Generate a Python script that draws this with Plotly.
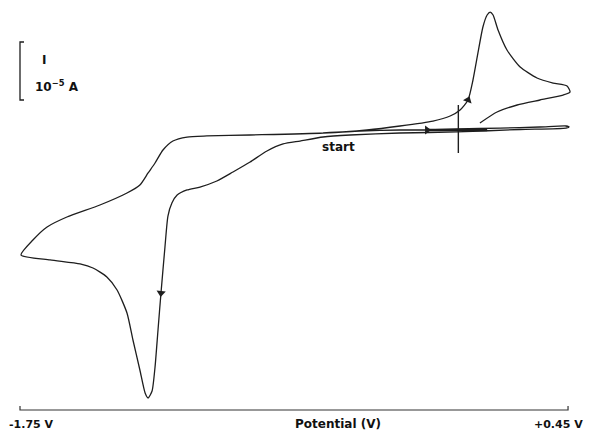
import plotly.graph_objects as go

# Cyclic voltammogram trace (potential in V, current in microamps)
V_SCAN = [-0.537, -0.388, -0.227, -0.118, 0.007, 0.176, 0.337, 0.442, 0.454, 0.442,
          0.257, 0.003, -0.227, -0.428, -0.537, -0.630, -0.698, -0.763, -0.831, -0.900,
          -0.965, -1.033, -1.085, -1.125, -1.146, -1.162, -1.174, -1.190, -1.202, -1.214,
          -1.226, -1.242, -1.254, -1.275, -1.303, -1.327, -1.367, -1.408, -1.464, -1.516,
          -1.637, -1.754, -1.706, -1.649, -1.569, -1.436, -1.327, -1.275, -1.242, -1.214,
          -1.182, -1.142, -1.085, -1.005, -0.831, -0.537, -0.360, -0.227, -0.094, -0.025,
          0.015, 0.047, 0.067, 0.087, 0.107, 0.124, 0.136, 0.148, 0.168, 0.204,
          0.257, 0.325, 0.390, 0.446, 0.458, 0.430, 0.337, 0.245, 0.164, 0.095]
I_SCAN = [-0.52, -0.17, 0.0, 0.0, 0.17, 0.34, 0.52, 0.69, 0.52, 0.34,
          0.09, -0.34, -0.52, -0.86, -1.21, -1.90, -2.41, -3.62, -5.52, -7.24,
          -8.79, -9.83, -10.34, -11.21, -12.59, -14.83, -20.17, -28.10, -34.48, -40.86,
          -45.0, -46.21, -45.34, -41.38, -36.21, -31.55, -27.59, -25.34, -23.79, -23.10,
          -22.41, -21.55, -18.97, -16.72, -15.0, -12.93, -10.86, -9.48, -7.41, -5.69,
          -3.45, -1.90, -1.21, -1.03, -0.86, -0.52, 0.0, 0.69, 1.55, 2.41,
          3.45, 5.17, 8.62, 13.28, 17.76, 19.83, 20.34, 19.83, 17.24, 13.79,
          10.86, 8.97, 8.10, 7.59, 6.55, 6.03, 5.17, 4.31, 3.10, 1.21]

# Direction arrows along the scan: potential, current, symbol, rotation
ARROW_V = [-0.118, 0.047, -1.190]
ARROW_I = [0.0, 5.17, -28.10]
ARROW_SYMBOL = ["triangle-right", "triangle-up", "triangle-down"]
ARROW_ANGLE = [0, 22, 5]

# Start marker (thick pen segment) and reference cross at 0 V
START_SEG_V = [-0.118, 0.124]
START_SEG_I = [0.0, 0.0]
CROSS_V = 0.008
CROSS_I = [4.31, -3.97]

# Axis / scale
V_MIN, V_MAX = -1.75, 0.45
X_TICK_TEXT = ["-1.75 V", "+0.45 V"]
X_LABEL = "Potential (V)"
SCALE_BAR_UA = 10.0
SCALE_BAR_TOP = 15.17
SCALE_LABEL = ["I", "10<sup>−5</sup> A"]
START_LABEL = "start"

PX_PER_V = 248.2      # horizontal scale of the recording
PX_PER_UA = 5.8       # vertical scale of the recording
ZERO_ROW = 130        # row of zero current in the reference frame
OFFSET = 8            # page body margin


def cur(row):
    return (ZERO_ROW - row) / PX_PER_UA


def pot(col):
    return V_MIN + (col - 22) / PX_PER_V


INK = "#1e1e1e"
FONT = dict(family="DejaVu Sans, Liberation Sans, sans-serif", size=12, color="#111111",
            weight="bold")
FONT_END = dict(FONT, size=11)

fig = go.Figure()

fig.add_trace(go.Scatter(x=V_SCAN, y=I_SCAN, mode="lines",
                         line=dict(color=INK, width=1.3, shape="spline", smoothing=0.6),
                         hoverinfo="skip", showlegend=False))

fig.add_trace(go.Scatter(x=START_SEG_V, y=START_SEG_I, mode="lines",
                         line=dict(color=INK, width=2.4), showlegend=False, hoverinfo="skip"))
fig.add_trace(go.Scatter(x=[CROSS_V, CROSS_V], y=CROSS_I, mode="lines",
                         line=dict(color=INK, width=1.4), showlegend=False, hoverinfo="skip"))

fig.add_trace(go.Scatter(x=ARROW_V, y=ARROW_I, mode="markers",
                         marker=dict(symbol=ARROW_SYMBOL, angle=ARROW_ANGLE, size=8, color=INK,
                                     line=dict(width=0)),
                         showlegend=False, hoverinfo="skip"))

# scale bar (bracket) of 10 uA
sb_x = V_MIN - 2 / PX_PER_V
sb_tick = V_MIN + 2 / PX_PER_V
fig.add_trace(go.Scatter(x=[sb_tick, sb_x, sb_x, sb_tick],
                         y=[SCALE_BAR_TOP, SCALE_BAR_TOP, SCALE_BAR_TOP - SCALE_BAR_UA,
                            SCALE_BAR_TOP - SCALE_BAR_UA],
                         mode="lines", line=dict(color=INK, width=1.3),
                         showlegend=False, hoverinfo="skip"))

# baseline potential axis with end ticks
base_I = cur(410)
tick_I = cur(406)
fig.add_trace(go.Scatter(x=[sb_x, sb_x, V_MAX, V_MAX],
                         y=[tick_I, base_I, base_I, tick_I],
                         mode="lines", line=dict(color="#333333", width=1.2),
                         showlegend=False, hoverinfo="skip"))

ann = [
    dict(x=V_MIN, y=cur(424), text=X_TICK_TEXT[0], xanchor="left", xshift=-15, font=FONT_END),
    dict(x=V_MAX, y=cur(424), text=X_TICK_TEXT[1], xanchor="right", xshift=17, font=FONT_END),
    dict(x=pot(338), y=cur(424), text=X_LABEL, xanchor="center", xshift=0, font=FONT),
    dict(x=pot(338), y=cur(147), text=START_LABEL, xanchor="center", xshift=0, font=FONT),
    dict(x=pot(44), y=cur(60), text=SCALE_LABEL[0], xanchor="center", xshift=0, font=FONT),
    dict(x=pot(33), y=cur(86), text=SCALE_LABEL[1], xanchor="left", xshift=0, font=FONT),
]
for a in ann:
    fig.add_annotation(x=a["x"], y=a["y"], text=a["text"], showarrow=False,
                       xref="x", yref="y", xanchor=a["xanchor"], yanchor="middle",
                       xshift=a["xshift"], font=a["font"])

W, H = 592 - OFFSET, 431 - OFFSET
left_px, right_px = 14, 574   # plot-area edges in the reference frame
fig.update_layout(
    width=W, height=H,
    margin=dict(l=left_px - OFFSET, r=592 - right_px, t=0, b=0),
    paper_bgcolor="white", plot_bgcolor="white",
    xaxis=dict(range=[pot(left_px), pot(right_px)], visible=False),
    yaxis=dict(range=[cur(431), cur(OFFSET)], visible=False),
)

fig.write_html("out.html")
